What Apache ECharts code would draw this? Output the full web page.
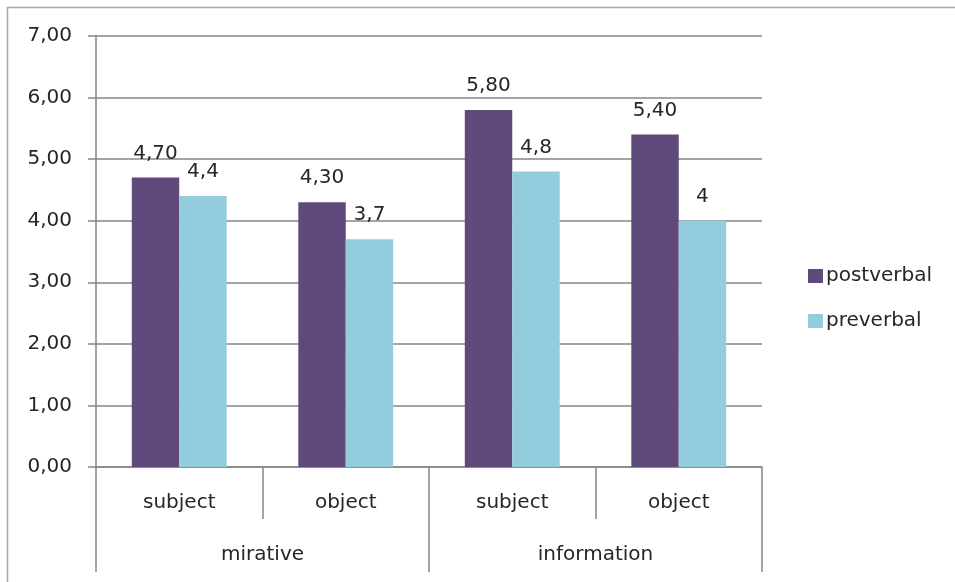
<!DOCTYPE html>
<html>
<head>
<meta charset="utf-8">
<script src="https://cdn.jsdelivr.net/npm/echarts@6/dist/echarts.min.js"></script>
<style>
  html, body { margin: 0; padding: 0; background: #fff; }
  #chart { width: 955px; height: 582px; }
</style>
</head>
<body>
<div id="chart"></div>
<script>
// Sub-categories (inner axis level) and groups (outer axis level)
const roles = ['subject', 'object', 'subject', 'object'];
const groups = ['mirative', 'information'];
const seriesNames = ['postverbal', 'preverbal'];
const postverbal = [4.7, 4.3, 5.8, 5.4];
const preverbal = [4.4, 3.7, 4.8, 4];
const yTicks = [0, 1, 2, 3, 4, 5, 6, 7];

const FONT = 'DejaVu Sans';
const TEXT = '#262626';
const GRID = '#868686';

const commaFixed = v => v.toFixed(2).replace('.', ',');
const commaPlain = v => String(v).replace('.', ',');

const chart = echarts.init(document.getElementById('chart'), null, { renderer: 'canvas' });

chart.setOption({
  animation: false,
  backgroundColor: '#fff',
  textStyle: { fontFamily: FONT, color: TEXT },
  graphic: [{
    type: 'rect',
    shape: { x: 7.5, y: 7.5, width: 1000, height: 1000 },
    style: { fill: 'none', stroke: '#a6a6a6', lineWidth: 1.5 },
    silent: true
  }],
  grid: { left: 96, right: 193, top: 36, bottom: 115, containLabel: false },
  legend: {
    orient: 'vertical',
    left: 803,
    top: 261,
    itemWidth: 15,
    itemHeight: 14,
    itemGap: 25,
    icon: 'rect',
    data: seriesNames,
    textStyle: { fontFamily: FONT, fontSize: 20, color: TEXT, padding: [0, 0, 0, -2] }
  },
  xAxis: [{
    type: 'category',
    data: roles,
    position: 'bottom',
    axisLine: { show: true, lineStyle: { color: GRID, width: 1.5 } },
    axisTick: { show: true, length: 52, interval: 0, lineStyle: { color: GRID, width: 1.5 } },
    axisLabel: { interval: 0, margin: 26, fontFamily: FONT, fontSize: 20, color: TEXT }
  }, {
    type: 'category',
    data: groups,
    position: 'bottom',
    axisLine: { show: false },
    axisTick: { show: true, length: 105, interval: 0, lineStyle: { color: GRID, width: 1.5 } },
    axisLabel: { interval: 0, margin: 78, fontFamily: FONT, fontSize: 20, color: TEXT }
  }],
  yAxis: {
    type: 'value',
    min: yTicks[0],
    max: yTicks[yTicks.length - 1],
    interval: 1,
    axisLine: { show: true, lineStyle: { color: GRID, width: 1.5 } },
    axisTick: { show: true, length: 8, lineStyle: { color: GRID, width: 1.5 } },
    splitLine: { show: true, lineStyle: { color: GRID, width: 1.5 } },
    axisLabel: { margin: 24, fontFamily: FONT, fontSize: 20, color: TEXT, formatter: commaFixed }
  },
  series: [{
    name: seriesNames[0],
    type: 'bar',
    xAxisIndex: 0,
    data: postverbal,
    barGap: '0%',
    barCategoryGap: '43%',
    itemStyle: { color: '#604A7B' },
    label: {
      show: true, position: 'top', distance: 14,
      fontFamily: FONT, fontSize: 20, color: TEXT,
      formatter: p => commaFixed(p.value)
    }
  }, {
    name: seriesNames[1],
    type: 'bar',
    xAxisIndex: 0,
    data: preverbal,
    barGap: '0%',
    barCategoryGap: '43%',
    itemStyle: { color: '#93CDDD' },
    label: {
      show: true, position: 'top', distance: 14,
      fontFamily: FONT, fontSize: 20, color: TEXT,
      formatter: p => commaPlain(p.value)
    }
  }]
});
</script>
</body>
</html>
